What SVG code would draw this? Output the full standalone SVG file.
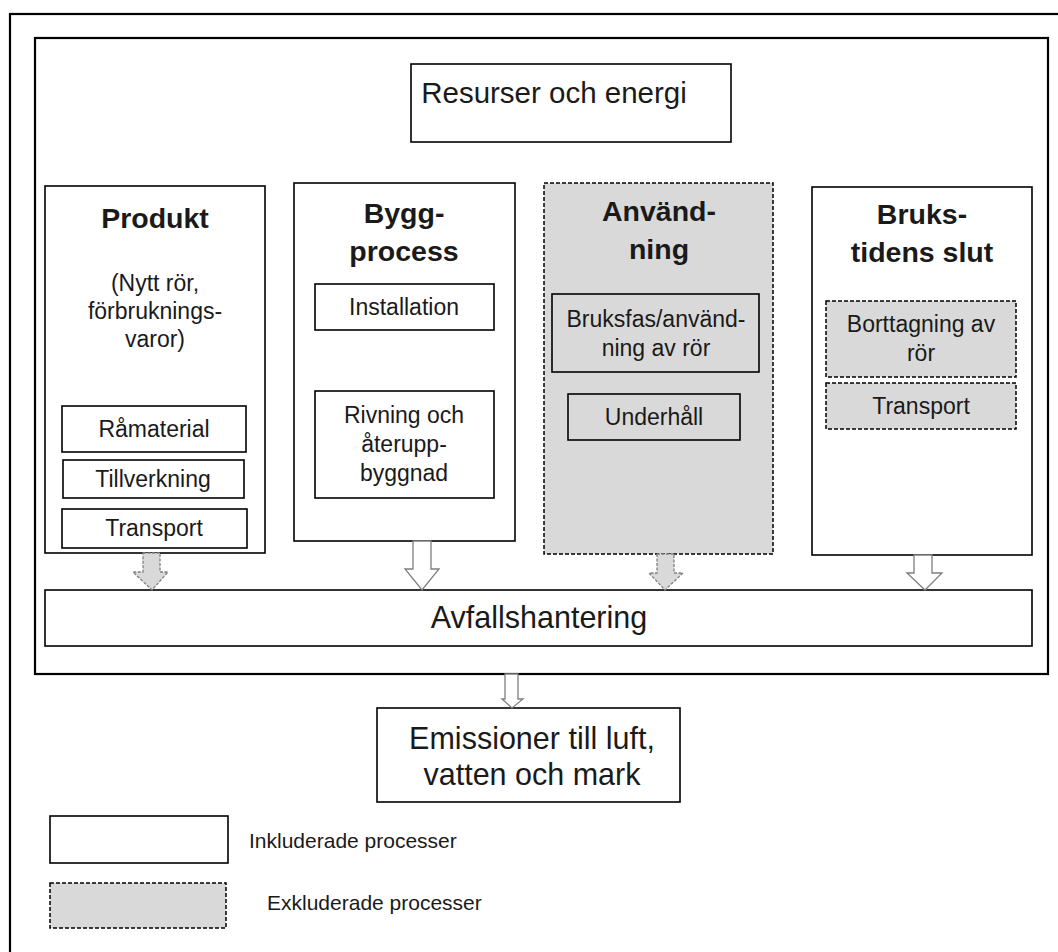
<svg xmlns="http://www.w3.org/2000/svg" width="1058" height="952" viewBox="0 0 1058 952">
  <style>
    .box { fill: #ffffff; stroke: #000000; stroke-width: 1.6; }
    .frame { fill: none; stroke: #000000; stroke-width: 2.2; }
    .excl { fill: #d9d9d9; stroke: #000000; stroke-width: 1.5; stroke-dasharray: 4 2; }
    .t { font-family: "Liberation Sans", Arial, sans-serif; fill: #1a1a1a; text-anchor: middle; }
    .title { font-size: 28.5px; font-weight: bold; }
    .sub { font-size: 23px; }
    .big { font-size: 30.5px; }
    .legend { font-size: 21px; text-anchor: start; }
    .arrow-in { fill: #ffffff; stroke: #7f7f7f; stroke-width: 1.3; }
    .arrow-ex { fill: #d9d9d9; stroke: #7f7f7f; stroke-width: 1.3; stroke-dasharray: 3 1.5; }
  </style>

  <rect width="1058" height="952" fill="#ffffff"/>

  <!-- outer border and system boundary -->
  <rect class="frame" x="10" y="14" width="1070" height="960"/>
  <rect class="frame" x="35" y="38" width="1013" height="636"/>

  <g id="resurser">
    <rect class="box" x="411" y="64" width="320" height="78"/>
    <text class="t" x="554" y="103" font-size="29.5">Resurser och energi</text>
  </g>

  <g id="produkt">
    <rect class="box" x="45" y="186" width="220" height="367"/>
    <text class="t title" x="155" y="228">Produkt</text>
    <text class="t sub" x="155" y="291">(Nytt rör,</text>
    <text class="t sub" x="155" y="319">förbruknings-</text>
    <text class="t sub" x="155" y="347">varor)</text>
  </g>
  <g id="ramaterial">
    <rect class="box" x="62" y="406" width="184" height="46"/>
    <text class="t sub" x="154" y="437">Råmaterial</text>
  </g>
  <g id="tillverkning">
    <rect class="box" x="63" y="460" width="181" height="38"/>
    <text class="t sub" x="153" y="487">Tillverkning</text>
  </g>
  <g id="transport-produkt">
    <rect class="box" x="62" y="509" width="185" height="39"/>
    <text class="t sub" x="154" y="536">Transport</text>
  </g>

  <g id="byggprocess">
    <rect class="box" x="294" y="183" width="221" height="358"/>
    <text class="t title" x="404" y="223">Bygg-</text>
    <text class="t title" x="404" y="261">process</text>
  </g>
  <g id="installation">
    <rect class="box" x="315" y="284" width="179" height="46"/>
    <text class="t sub" x="404" y="315">Installation</text>
  </g>
  <g id="rivning">
    <rect class="box" x="315" y="391" width="179" height="107"/>
    <text class="t sub" x="404" y="423">Rivning och</text>
    <text class="t sub" x="404" y="452">återupp-</text>
    <text class="t sub" x="404" y="481">byggnad</text>
  </g>

  <g id="anvandning">
    <rect class="excl" x="544" y="183" width="229" height="371"/>
    <text class="t title" x="659" y="221">Använd-</text>
    <text class="t title" x="659" y="259">ning</text>
  </g>
  <g id="bruksfas">
    <rect class="box" x="552" y="294" width="207" height="78" style="fill:#d9d9d9"/>
    <text class="t sub" x="656" y="327">Bruksfas/använd-</text>
    <text class="t sub" x="656" y="356">ning av rör</text>
  </g>
  <g id="underhall">
    <rect class="box" x="568" y="394" width="172" height="46" style="fill:#d9d9d9"/>
    <text class="t sub" x="654" y="425">Underhåll</text>
  </g>

  <g id="brukstidens-slut">
    <rect class="box" x="812" y="187" width="220" height="368"/>
    <text class="t title" x="922" y="224">Bruks-</text>
    <text class="t title" x="922" y="262">tidens slut</text>
  </g>
  <g id="borttagning">
    <rect class="excl" x="826" y="301" width="190" height="76"/>
    <text class="t sub" x="921" y="332">Borttagning av</text>
    <text class="t sub" x="921" y="361">rör</text>
  </g>
  <g id="transport-slut">
    <rect class="excl" x="826" y="383" width="190" height="46"/>
    <text class="t sub" x="921" y="414">Transport</text>
  </g>

  <g id="avfallshantering">
    <rect class="box" x="45" y="590" width="987" height="56"/>
    <text class="t big" x="539" y="628">Avfallshantering</text>
  </g>

  <g id="emissioner">
    <rect class="box" x="377" y="708" width="303" height="94"/>
    <text class="t big" x="532" y="749">Emissioner till luft,</text>
    <text class="t big" x="532" y="785">vatten och mark</text>
  </g>

  <!-- flows into waste handling and out to emissions -->
  <g id="connectors">
    <polygon class="arrow-ex" points="143,553 160,553 160,572 168,572 152,590 133,572 143,572"/>
    <polygon class="arrow-in" points="413,541 431,541 431,569 439,569 422,590 405,569 413,569"/>
    <polygon class="arrow-ex" points="657,554 674,554 674,573 683,573 665,590 649,573 657,573"/>
    <polygon class="arrow-in" points="914,555 932,555 932,573 942,573 925,590 907,573 914,573"/>
    <polygon class="arrow-in" points="505,674 518,674 518,699 523,699 512,708 502,699 505,699"/>
  </g>

  <g id="legend">
    <g id="legend-included">
      <rect class="box" x="50" y="816" width="178" height="47"/>
      <text class="t legend" x="249" y="848">Inkluderade processer</text>
    </g>
    <g id="legend-excluded">
      <rect class="excl" x="50" y="883" width="176" height="45"/>
      <text class="t legend" x="267" y="910">Exkluderade processer</text>
    </g>
  </g>
</svg>
